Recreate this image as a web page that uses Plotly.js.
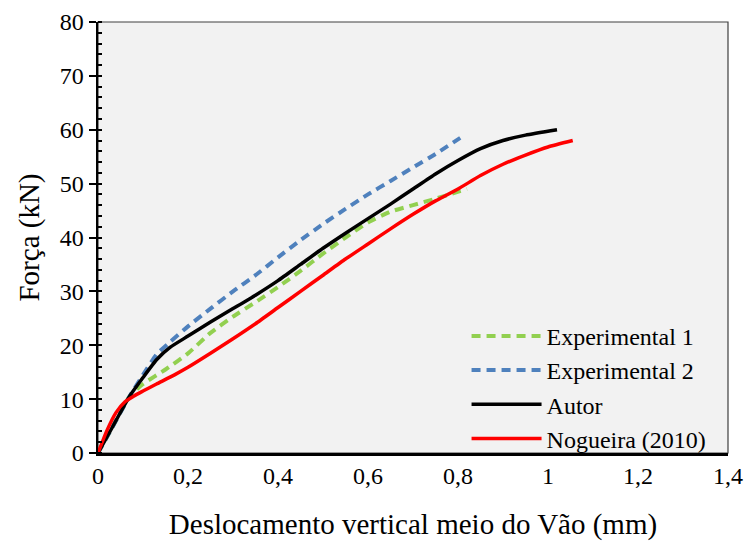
<!DOCTYPE html>
<html>
<head>
<meta charset="utf-8">
<script src="https://cdn.plot.ly/plotly-3.0.1.min.js"></script>
<style>
  html, body { margin: 0; padding: 0; background: #ffffff; }
  #chart { width: 747px; height: 543px; }
</style>
</head>
<body>
<div id="chart"></div>
<script>
// Load-displacement curves (force in kN vs mid-span vertical displacement in mm)
const exp1X = [0, 0.03, 0.07, 0.10, 0.15, 0.20, 0.25, 0.30, 0.35, 0.40, 0.45, 0.50, 0.55, 0.60, 0.65, 0.70, 0.75, 0.82];
const exp1Y = [0, 4.5, 10.5, 12.8, 15.5, 18.5, 22.3, 25.3, 28.0, 30.8, 33.8, 37.0, 40.0, 42.8, 44.8, 46.0, 47.2, 49.0];

const exp2X = [0, 0.03, 0.07, 0.10, 0.13, 0.16, 0.20, 0.25, 0.30, 0.35, 0.40, 0.45, 0.50, 0.55, 0.60, 0.65, 0.70, 0.75, 0.805];
const exp2Y = [0, 4.5, 10.5, 14.5, 18.3, 20.6, 23.5, 26.8, 30.0, 33.0, 36.3, 39.5, 42.5, 45.3, 48.0, 50.5, 53.0, 55.5, 58.5];

const autorX = [0, 0.03, 0.07, 0.10, 0.13, 0.16, 0.20, 0.25, 0.30, 0.35, 0.40, 0.45, 0.50, 0.55, 0.60, 0.65, 0.70, 0.75, 0.80, 0.85, 0.90, 0.95, 1.02];
const autorY = [0, 4.5, 10.5, 14.0, 17.3, 19.6, 21.7, 24.3, 26.8, 29.3, 32.0, 35.0, 38.0, 40.8, 43.5, 46.2, 49.0, 51.8, 54.3, 56.5, 58.0, 59.0, 60.0];

const nogX = [0, 0.02, 0.04, 0.06, 0.08, 0.10, 0.13, 0.17, 0.20, 0.25, 0.30, 0.35, 0.40, 0.45, 0.50, 0.55, 0.60, 0.65, 0.70, 0.75, 0.80, 0.85, 0.90, 0.95, 1.00, 1.055];
const nogY = [0, 4.2, 7.5, 9.5, 10.6, 11.5, 12.8, 14.5, 15.9, 18.5, 21.2, 24.0, 27.0, 30.0, 33.0, 36.0, 38.8, 41.6, 44.3, 46.8, 49.0, 51.5, 53.6, 55.3, 56.8, 58.0];

const seriesNames = ['Experimental 1', 'Experimental 2', 'Autor', 'Nogueira (2010)'];
const xTicks = [0, 0.2, 0.4, 0.6, 0.8, 1, 1.2, 1.4];
const yTicks = [0, 10, 20, 30, 40, 50, 60, 70, 80];

const serif = "'Liberation Serif', 'Times New Roman', serif";

function curve(x, y, name, color, width, dash, group) {
  return {
    x: x, y: y, name: name, type: 'scatter', mode: 'lines',
    legendgroup: group,
    line: { color: color, width: width, dash: dash, shape: 'spline', smoothing: 0.5 }
  };
}

const traces = [
  curve(exp1X, exp1Y, seriesNames[0], '#92d050', 4, '9px,6px', 'g1'),
  curve(exp2X, exp2Y, seriesNames[1], '#4f81bd', 4, '9px,6px', 'g2'),
  curve(autorX, autorY, seriesNames[2], '#000000', 3.5, 'solid', 'g3'),
  curve(nogX, nogY, seriesNames[3], '#ff0000', 3.5, 'solid', 'g4')
];

const layout = {
  width: 747, height: 543,
  margin: { l: 98, r: 19, t: 22, b: 90 },
  paper_bgcolor: '#ffffff',
  plot_bgcolor: '#f2f2f2',
  separators: ', ',
  font: { family: serif, size: 24, color: '#000000' },
  showlegend: true,
  legend: {
    x: 0.585, y: 0.323, xanchor: 'left', yanchor: 'top',
    bgcolor: 'rgba(0,0,0,0)', borderwidth: 0,
    font: { family: serif, size: 24, color: '#000000' },
    traceorder: 'grouped', tracegroupgap: 0,
    itemwidth: 70
  },
  xaxis: {
    range: [0, 1.4], tickvals: xTicks, ticks: '',
    showgrid: false, zeroline: false,
    showline: true, linecolor: '#000000', linewidth: 2.5,
    tickfont: { family: serif, size: 24, color: '#000000' },
    title: { text: 'Deslocamento vertical meio do Vão (mm)', font: { family: serif, size: 29, color: '#000000' }, standoff: 26 },
    fixedrange: true
  },
  yaxis: {
    range: [0, 80], tickvals: yTicks, ticks: 'outside', ticklen: 7, tickwidth: 2, tickcolor: '#000000',
    minor: { ticks: 'inside', dtick: 2, ticklen: 4, tickwidth: 2, tickcolor: '#000000', showgrid: false },
    showgrid: false, zeroline: false,
    showline: true, linecolor: '#000000', linewidth: 2.5,
    tickfont: { family: serif, size: 24, color: '#000000' },
    title: { text: 'Força (kN)', font: { family: serif, size: 29, color: '#000000' }, standoff: 12 },
    fixedrange: true
  },
  shapes: [{
    type: 'rect', xref: 'paper', yref: 'paper', x0: 0, x1: 1, y0: 0, y1: 1,
    line: { color: '#404040', width: 1.2 }, layer: 'below'
  }]
};

Plotly.newPlot('chart', traces, layout, { displayModeBar: false, staticPlot: true });
</script>
</body>
</html>
